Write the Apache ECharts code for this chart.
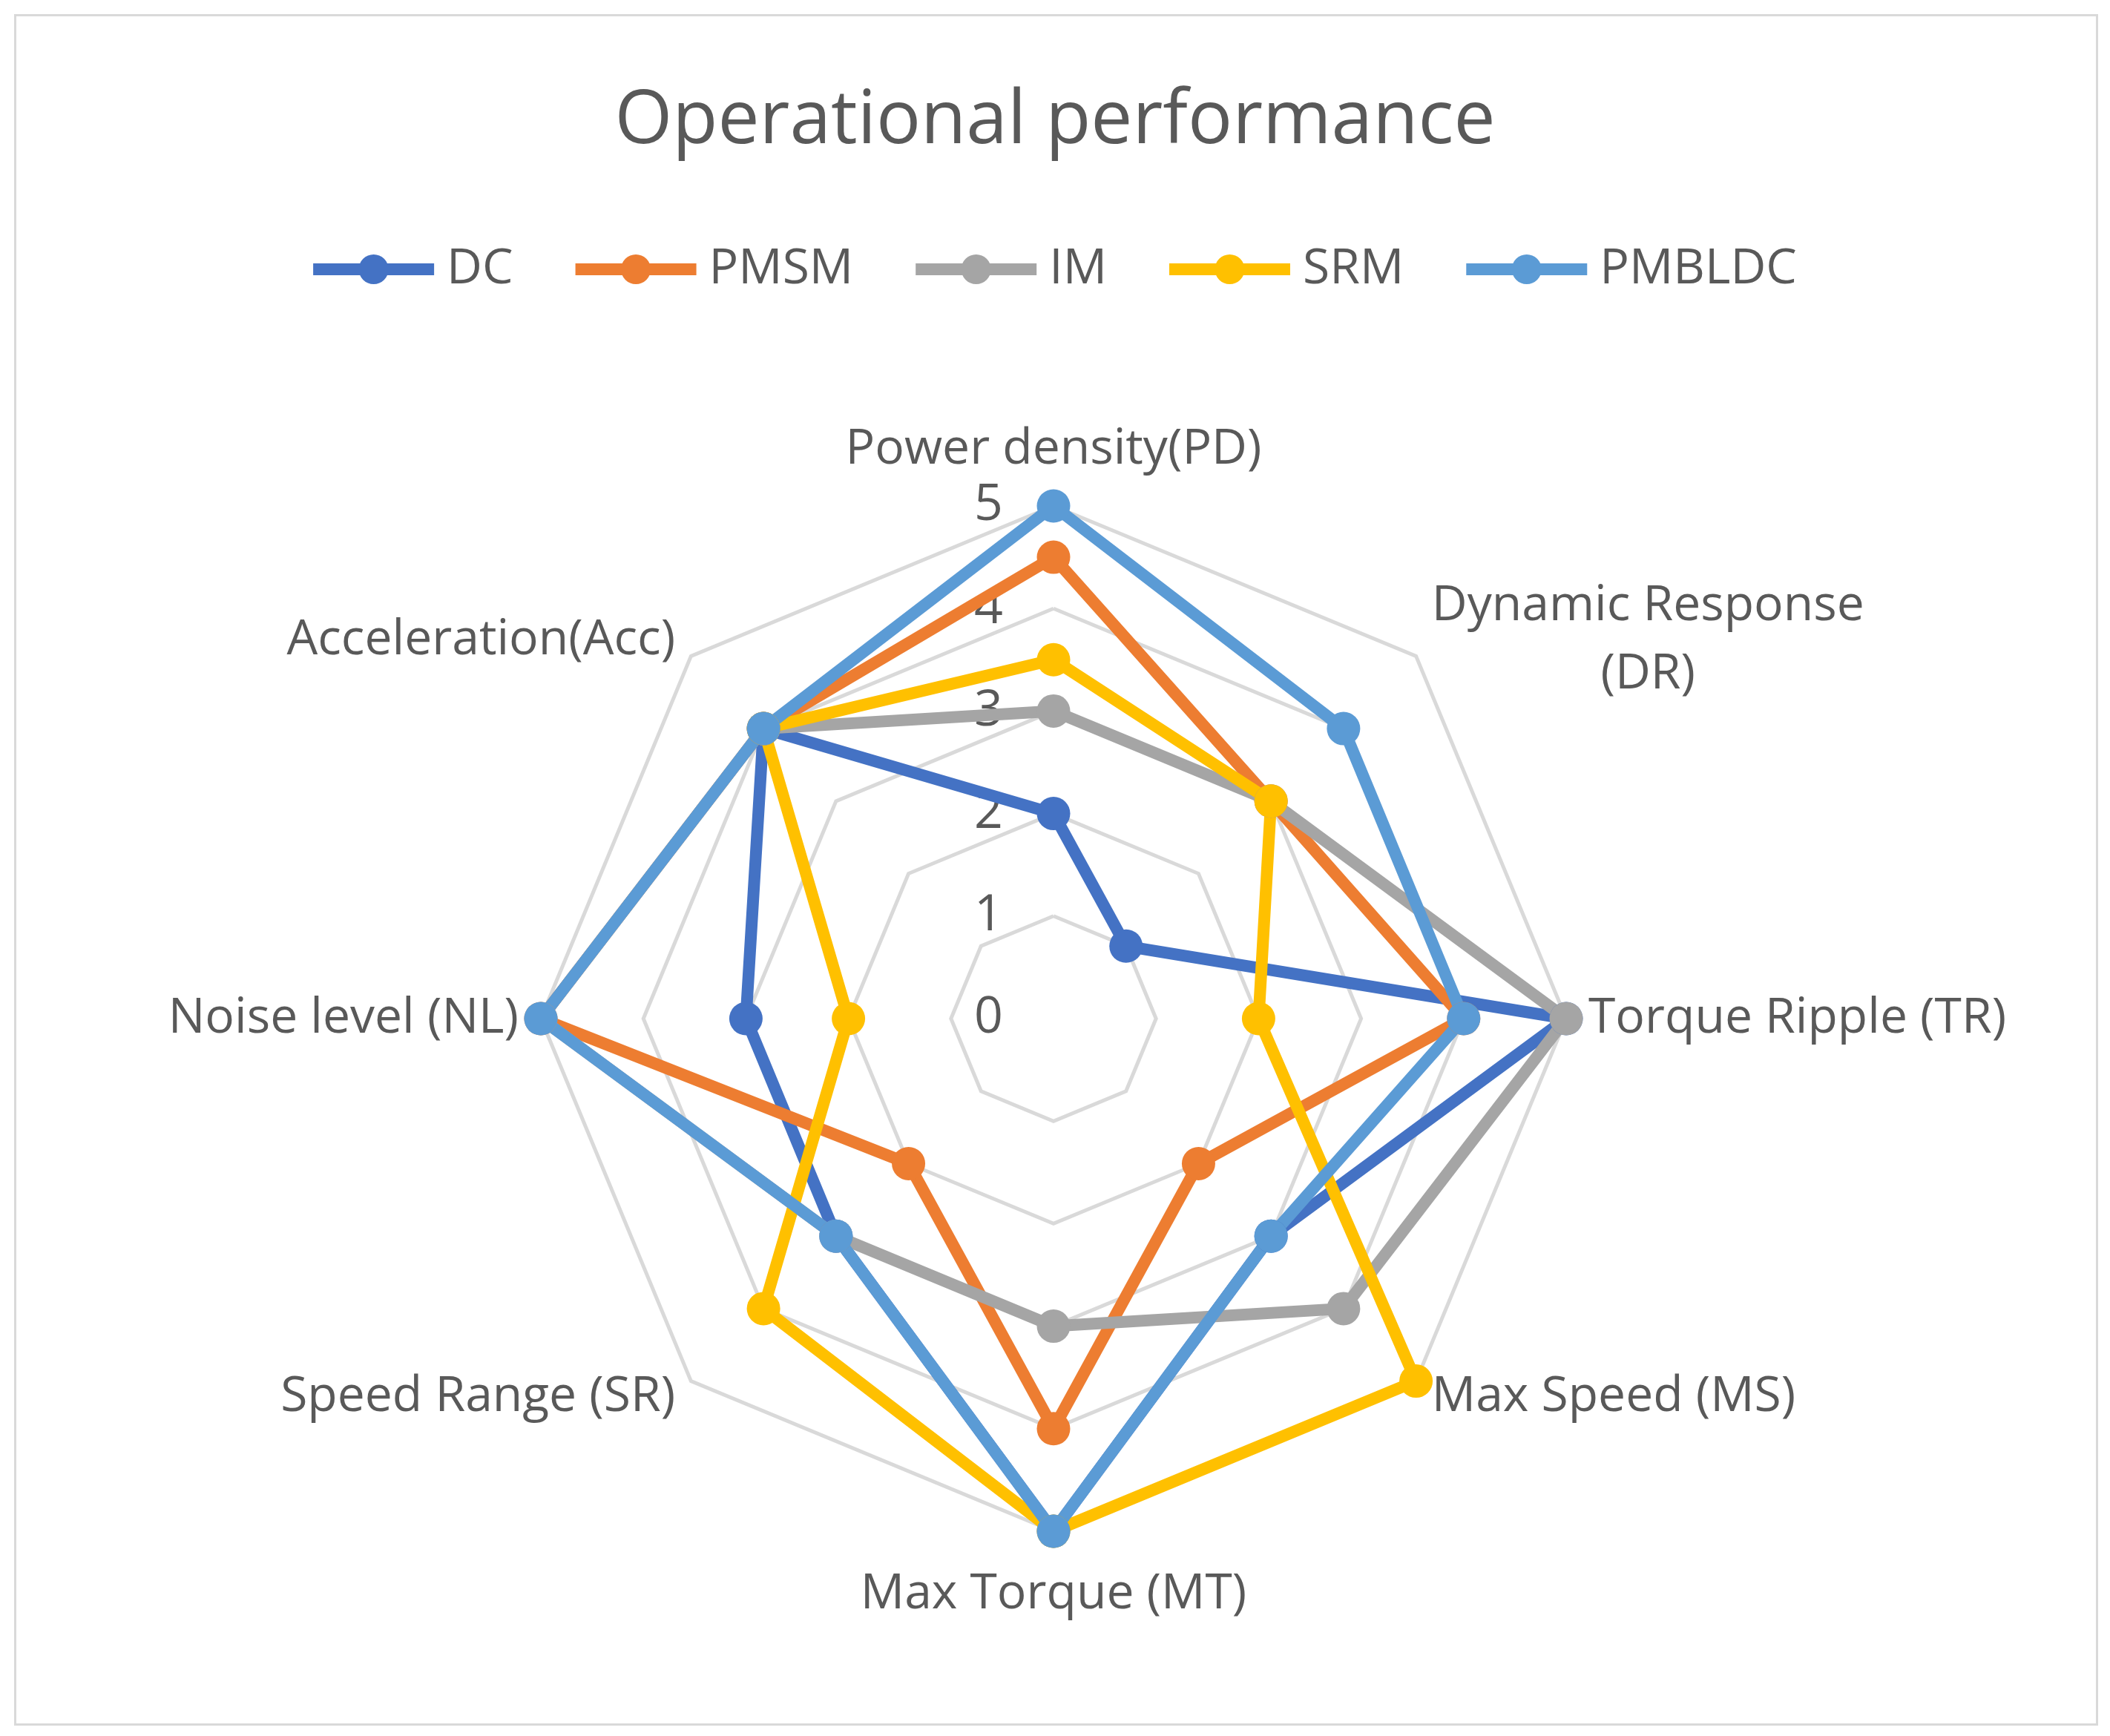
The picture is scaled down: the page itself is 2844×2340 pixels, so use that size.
<!DOCTYPE html>
<html><head><meta charset="utf-8">
<script src="https://cdn.jsdelivr.net/npm/echarts@6/dist/echarts.min.js"></script>
<style>html,body{margin:0;padding:0;background:#fff}#c{width:2844px;height:2340px}</style>
</head><body><div id="c"></div>
<script>
// Axes listed clockwise from the top, as in the picture
const categories = ['Power density(PD)', 'Dynamic Response\n(DR)', 'Torque Ripple (TR)', 'Max Speed (MS)',
  'Max Torque (MT)', 'Speed Range (SR)', 'Noise level (NL)', 'Acceleration(Acc)'];
const seriesNames = ['DC', 'PMSM', 'IM', 'SRM', 'PMBLDC'];
const DC     = [2,   1, 5, 3, 5, 3, 3, 4];
const PMSM   = [4.5, 3, 4, 2, 4, 2, 5, 4];
const IM     = [3,   3, 5, 4, 3, 3, 5, 4];
const SRM    = [3.5, 3, 2, 5, 5, 4, 2, 4];
const PMBLDC = [5,   4, 4, 3, 5, 3, 5, 4];
const axisMax = 5;
const tickLabels = ['0', '1', '2', '3', '4', '5'];

const values = [DC, PMSM, IM, SRM, PMBLDC];
const colors = ['#4472C4', '#ED7D31', '#A5A5A5', '#FFC000', '#5B9BD5'];
const textColor = '#595959';
const FONT = '"Open Sans", "Noto Sans", sans-serif';

// ECharts radar places indicators counter-clockwise; reorder so they read clockwise
const n = categories.length;
const order = [0];
for (let i = n - 1; i >= 1; i--) order.push(i);

const indicator = order.map((idx, k) => {
  const o = { name: categories[idx], max: axisMax, min: 0 };
  if (k === 0) {
    o.axisLabel = {
      show: true, color: textColor, fontSize: 68, fontFamily: FONT, margin: 68,
      formatter: v => tickLabels[Math.round(v)] ?? String(v)
    };
  }
  return o;
});

const legendIcon = 'path://M0,12 L163,12 L163,28 L0,28 Z M81.5,0 A20,20 0 1,1 81.5,40 A20,20 0 1,1 81.5,0 Z';

const nameBase = { color: textColor, fontSize: 66, fontFamily: FONT };
function nameFormatter(name) {
  const i = categories.indexOf(name);
  if (name.indexOf('\n') >= 0) return name.split('\n').map(s => '{c|' + s + '}').join('\n');
  if (i === 0) return '{up|' + name + '}';
  if (i === 4) return '{down|' + name + '}';
  return name;
}

const chart = echarts.init(document.getElementById('c'), null, { renderer: 'canvas' });
chart.setOption({
  backgroundColor: '#fff',
  animation: false,
  color: colors,
  graphic: [{
    type: 'rect', left: 18, top: 18, silent: true,
    shape: { width: 2806, height: 2304 },
    style: { fill: 'none', stroke: '#D9D9D9', lineWidth: 3 }
  }],
  title: {
    text: 'Operational performance', left: 'center', top: 110,
    textStyle: { color: textColor, fontSize: 100, fontWeight: 'normal', fontFamily: FONT }
  },
  legend: {
    top: 325, left: 'center', itemWidth: 163, itemHeight: 40, itemGap: 84,
    icon: legendIcon,
    textStyle: { color: textColor, fontSize: 66, fontFamily: FONT, padding: [0, 0, 0, 12] },
    data: seriesNames
  },
  radar: {
    center: [1420, 1373], radius: 691, startAngle: 90, splitNumber: 5,
    shape: 'polygon',
    axisNameGap: 30,
    axisName: Object.assign({}, nameBase, {
      formatter: nameFormatter,
      rich: {
        c: Object.assign({ align: 'center', lineHeight: 92 }, nameBase),
        up: Object.assign({ padding: [0, 0, 13, 0] }, nameBase),
        down: Object.assign({ padding: [22, 0, 0, 0] }, nameBase)
      }
    }),
    axisLine: { show: false },
    axisTick: { show: false },
    axisLabel: { show: false },
    splitLine: { lineStyle: { color: '#D9D9D9', width: 5 } },
    splitArea: { show: false },
    indicator: indicator
  },
  series: seriesNames.map((name, s) => ({
    type: 'radar', name: name,
    symbol: 'circle', symbolSize: 45,
    lineStyle: { width: 16, color: colors[s] },
    itemStyle: { color: colors[s] },
    data: [{ name: name, value: order.map(i => values[s][i]) }]
  }))
});
</script></body></html>
